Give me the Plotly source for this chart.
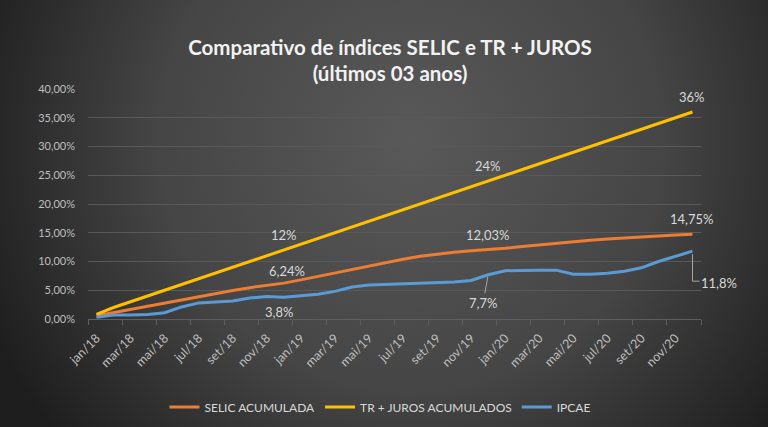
import base64
import plotly.graph_objects as go

# categorias (meses)
months = ["jan", "fev", "mar", "abr", "mai", "jun", "jul", "ago", "set", "out", "nov", "dez"]
years = ["18", "19", "20"]
categories = [f"{m}/{y}" for y in years for m in months]

# valores acumulados em %
selic = [0.55, 1.10, 1.65, 2.25, 2.85, 3.40, 3.90, 4.45, 4.95, 5.45, 5.85, 6.24,
         6.80, 7.40, 8.00, 8.65, 9.30, 9.90, 10.40, 10.90, 11.30, 11.60, 11.85, 12.03,
         12.30, 12.60, 12.90, 13.20, 13.45, 13.70, 13.90, 14.10, 14.30, 14.45, 14.60, 14.75]
tr_juros = [0.8, 2, 3, 4, 5, 6, 7, 8, 9, 10, 11, 12,
            13, 14, 15, 16, 17, 18, 19, 20, 21, 22, 23, 24,
            25, 26, 27, 28, 29, 30, 31, 32, 33, 34, 35, 36]
ipcae = [0.30, 0.70, 0.70, 0.80, 1.10, 2.10, 2.80, 3.00, 3.15, 3.65, 3.90, 3.80,
         4.05, 4.30, 4.80, 5.55, 5.90, 6.00, 6.10, 6.15, 6.25, 6.45, 6.70, 7.70,
         8.40, 8.50, 8.50, 8.50, 7.80, 7.80, 7.95, 8.30, 8.90, 10.00, 10.90, 11.80]

# rotulos de dados: indice do ponto e texto
tr_labels = {11: "12%", 23: "24%", 35: "36%"}
selic_labels = {11: "6,24%", 23: "12,03%", 35: "14,75%"}
ipcae_labels = {11: "3,8%", 23: "7,7%", 35: "11,8%"}

W, H = 768, 427
ML, MR, MT, MB = 88, 67, 89, 108
PW, PH = W - ML - MR, H - MT - MB

# fundo com gradiente radial (svg inline)
svg = f"""<svg xmlns='http://www.w3.org/2000/svg' width='{W}' height='{H}' viewBox='0 0 {W} {H}' preserveAspectRatio='none'>
<defs><radialGradient id='g' cx='410' cy='140' r='460' gradientUnits='userSpaceOnUse'>
<stop offset='0' stop-color='#595959'/><stop offset='0.55' stop-color='#454545'/><stop offset='1' stop-color='#1e1e1e'/>
</radialGradient></defs><rect width='{W}' height='{H}' fill='url(#g)'/></svg>"""
bg_src = "data:image/svg+xml;base64," + base64.b64encode(svg.encode()).decode()

font_family = "Lato, 'Open Sans', sans-serif"
label_color = "#d9d9d9"

fig = go.Figure()
fig.add_trace(go.Scatter(x=categories, y=selic, mode="lines", name="SELIC ACUMULADA",
                         line=dict(color="#ED7D31", width=3)))
fig.add_trace(go.Scatter(x=categories, y=tr_juros, mode="lines", name="TR + JUROS ACUMULADOS",
                         line=dict(color="#FFC000", width=3)))
fig.add_trace(go.Scatter(x=categories, y=ipcae, mode="lines", name="IPCAE",
                         line=dict(color="#5B9BD5", width=3)))

annotations = []
for i, txt in tr_labels.items():
    annotations.append(dict(x=categories[i], y=tr_juros[i], text=txt, showarrow=False, yshift=15))
for i, txt in selic_labels.items():
    annotations.append(dict(x=categories[i], y=selic[i], text=txt, showarrow=False,
                            yshift=12 if i == 11 else 15, xshift=3 if i == 11 else 0))
# ipcae: abaixo da linha
annotations.append(dict(x=categories[11], y=ipcae[11], text=ipcae_labels[11], showarrow=False,
                        xshift=-5, yshift=-15))
annotations.append(dict(x=categories[23], y=ipcae[23], text=ipcae_labels[23], showarrow=True,
                        arrowhead=0, arrowwidth=1, arrowcolor="#a6a6a6", ax=-5, ay=28, standoff=2))
annotations.append(dict(x=categories[35], y=ipcae[35], text=ipcae_labels[35], showarrow=False,
                        xshift=27, yshift=-32))
for a in annotations:
    a["font"] = dict(family=font_family, size=13, color=label_color)

fig.update_layout(
    width=W, height=H,
    margin=dict(l=ML, r=MR, t=MT, b=MB),
    paper_bgcolor="#333333",
    plot_bgcolor="rgba(0,0,0,0)",
    separators=",.",
    font=dict(family=font_family, color="#bfbfbf"),
    title=dict(text="<b>Comparativo de índices SELIC e TR + JUROS<br>(últimos 03 anos)</b>",
               x=(390 - ML) / PW, xref="paper", xanchor="center",
               y=0.872, yanchor="middle",
               font=dict(family=font_family, size=20.5, color="#f2f2f2")),
    showlegend=True,
    legend=dict(orientation="h", x=(380 - ML) / PW, xanchor="center",
                yref="container", y=1 - 407 / H, yanchor="middle",
                font=dict(family=font_family, size=12, color=label_color),
                bgcolor="rgba(0,0,0,0)"),
    annotations=annotations,
    images=[dict(source=bg_src, xref="paper", yref="paper",
                 x=-ML / PW, y=1 + MT / PH, sizex=W / PW, sizey=H / PH,
                 xanchor="left", yanchor="top", sizing="stretch", layer="below")],
    shapes=[dict(type="path", xref="x", yref="y", xsizemode="pixel", ysizemode="pixel",
                 xanchor=35, yanchor=ipcae[35], path="M0,-3 L0,-30 L7,-30",
                 line=dict(color="#a6a6a6", width=1))],
)

fig.update_xaxes(
    type="category", range=[-0.5, 35.5],
    tickmode="linear", tick0=0, dtick=2, tickson="boundaries",
    tickangle=-45, ticks="outside", ticklen=5, tickcolor="#5e5e5e",
    showgrid=False, showline=True, linecolor="#5e5e5e", linewidth=1,
    ticklabelstandoff=6,
    tickfont=dict(family=font_family, size=12.5, color="#bfbfbf"),
)
fig.update_yaxes(
    range=[0, 40], dtick=5, tickformat=".2f", ticksuffix="%",
    showgrid=True, gridcolor="#595959", gridwidth=1, zeroline=False, showline=False,
    ticklabelstandoff=12,
    tickfont=dict(family=font_family, size=11, color="#bfbfbf"),
)

fig.write_html("out.html", config={"displayModeBar": False},
               post_script="document.body.style.margin='0';document.body.style.background='#333';")
